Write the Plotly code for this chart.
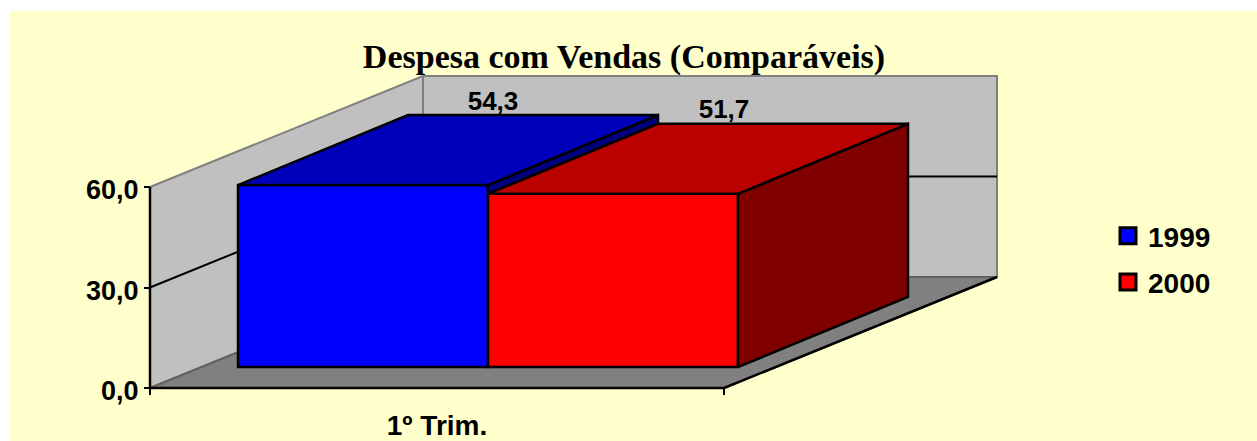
import plotly.graph_objects as go

# ---- data ----
categories = ["1º Trim."]
series_names = ["1999", "2000"]
series_values = [54.3, 51.7]
value_labels = ["54,3", "51,7"]
y_ticks = [0, 30, 60]
y_tick_labels = ["0,0", "30,0", "60,0"]

# ---- styling / geometry of the oblique "3D" look ----
W, H = 1257, 441
PX_LEFT, PX_RIGHT = 150, 724      # front plane of the chart, pixels
PX_BOTTOM, PX_TOP = 388, 187
PX_PER_X = PX_RIGHT - PX_LEFT     # x axis: 0..1 is the front plane width
PX_PER_Y = (PX_BOTTOM - PX_TOP) / 60
WALL_DX, WALL_DY = 273, 111       # chart depth, pixels
BAR_DX, BAR_DY = 170, 70          # bar depth, pixels
BAR_SHIFT_X, BAR_SHIFT_Y = 88, 21 # front of bars from chart front
BAR_WIDTH = 250
LABEL_SHIFT = [130, 111]
LABEL_ABOVE = 12
FRONT = ["#0000FF", "#FF0000"]
TOP = ["#0000BB", "#BB0000"]
SIDE = ["#000080", "#800000"]
WALL, FLOOR, EDGE = "#C0C0C0", "#808080", "#808080"
SANS = "Liberation Sans"
FS = 28
LW = 2.5


def ux(px):
    return px / PX_PER_X


def uy(px):
    return px / PX_PER_Y


def poly(xs, ys, fill, name):
    return go.Scatter(x=xs, y=ys, mode="lines", fill="toself", fillcolor=fill,
                      line=dict(color="black", width=LW), cliponaxis=False,
                      showlegend=False, hoverinfo="skip", name=name)


fig = go.Figure()
base = uy(BAR_SHIFT_Y)
x0 = ux(BAR_SHIFT_X)
bw = ux(BAR_WIDTH)
dx, dy = ux(BAR_DX), uy(BAR_DY)

# front faces
for i, v in enumerate(series_values):
    fig.add_trace(go.Bar(x=[x0 + bw * (i + 0.5)], y=[v], base=[base], width=[bw],
                         marker=dict(color=FRONT[i], line=dict(color="black", width=LW)),
                         showlegend=False, name=series_names[i]))

# side and top faces
for i, v in enumerate(series_values):
    xl, xr = x0 + bw * i, x0 + bw * (i + 1)
    top = base + v
    low = base + series_values[i + 1] if i + 1 < len(series_values) else base
    fig.add_trace(poly([xr, xr + dx, xr + dx, xr, xr],
                       [low, low + dy, top + dy, top, low], SIDE[i], series_names[i] + " side"))
    fig.add_trace(poly([xl, xl + dx, xr + dx, xr, xl],
                       [top, top + dy, top + dy, top, top], TOP[i], series_names[i] + " top"))

# value labels
for i, v in enumerate(series_values):
    fig.add_trace(go.Scatter(
        x=[x0 + bw * (i + 0.5) + ux(LABEL_SHIFT[i])], y=[base + v + dy + uy(LABEL_ABOVE)],
        mode="text", text=[value_labels[i]], textposition="middle center",
        textfont=dict(family=SANS, size=26, color="black", weight=700),
        showlegend=False, hoverinfo="skip"))

# legend entries
for i, n in enumerate(series_names):
    fig.add_trace(go.Scatter(x=[None], y=[None], mode="markers", name=n, legendgroup=n,
                             marker=dict(symbol="square", size=16, color=FRONT[i],
                                         line=dict(color="black", width=3))))

# walls and floor, in axis units
wx, wy = ux(WALL_DX), uy(WALL_DY)
ymax = y_ticks[-1]
ymid = y_ticks[1]


def shape_poly(pts, fill=None, color=EDGE, width=2):
    path = "M" + " L".join(f"{a:.5f},{b:.5f}" for a, b in pts)
    if fill:
        path += " Z"
    return dict(type="path", xref="x", yref="y", path=path, layer="below",
                fillcolor=fill if fill else "rgba(0,0,0,0)",
                line=dict(color=color, width=width))


shapes = [
    dict(type="rect", xref="paper", yref="paper", x0=10 / W, x1=1, y0=0, y1=1 - 11 / H,
         fillcolor="#FFFFCC", line=dict(width=0), layer="below"),
    shape_poly([(0, 0), (0, ymax), (wx, ymax + wy), (wx, wy)], fill=WALL),
    shape_poly([(wx, ymax + wy), (1 + wx, ymax + wy), (1 + wx, wy), (wx, wy)], fill=WALL),
    shape_poly([(0, 0), (wx, wy), (1 + wx, wy), (1, 0)], fill=FLOOR, color="#606060"),
    shape_poly([(0, ymid), (wx, ymid + wy), (1 + wx, ymid + wy)], color="black"),
    shape_poly([(1, 0), (1 + wx, wy)], color="black", width=2.5),
    shape_poly([(0, 0), (1, 0)], color="black", width=2.5),
    shape_poly([(0, 0), (0, ymax)], color="black", width=2.5),
]

fig.update_layout(
    width=W, height=H, autosize=False,
    margin=dict(l=0, r=0, t=0, b=0, pad=0, autoexpand=False),
    paper_bgcolor="white", plot_bgcolor="rgba(0,0,0,0)",
    barmode="overlay", shapes=shapes,
    title=dict(text="Despesa com Vendas (Comparáveis)", x=624 / W, xanchor="center",
               y=1 - 56 / H, yanchor="middle",
               font=dict(family="Liberation Serif", size=34, color="black", weight=700)),
    font=dict(family=SANS, size=27, color="black", weight=700),
    legend=dict(x=1108 / W, y=1 - 211 / H, xanchor="left", yanchor="top",
                font=dict(family=SANS, size=FS, color="black", weight=700),
                bgcolor="rgba(0,0,0,0)", tracegroupgap=7, itemwidth=30),
    xaxis=dict(domain=[0, 1], range=[-ux(PX_LEFT), ux(W - PX_LEFT)], showgrid=False,
               zeroline=False, showline=False, anchor="free", position=1 - PX_BOTTOM / H,
               tickvals=[0.5], ticktext=categories, ticks="", ticklabelstandoff=18,
               tickfont=dict(family=SANS, size=FS, color="black", weight=700),
               minor=dict(tickmode="array", tickvals=[0, 1], ticks="outside", ticklen=6,
                          tickwidth=2, tickcolor="black", showgrid=False)),
    yaxis=dict(domain=[0, 1], range=[uy(PX_BOTTOM - H), uy(PX_BOTTOM)], showgrid=False,
               zeroline=False, showline=False, anchor="free", position=PX_LEFT / W,
               tickvals=y_ticks, ticktext=y_tick_labels, ticks="outside", ticklen=6,
               tickwidth=2, tickcolor="black", ticklabelshift=3, ticklabelstandoff=0),
)

fig.write_html("out.html", config={"displayModeBar": False},
               post_script="document.body.style.margin='0';document.documentElement.style.overflow='hidden';")
